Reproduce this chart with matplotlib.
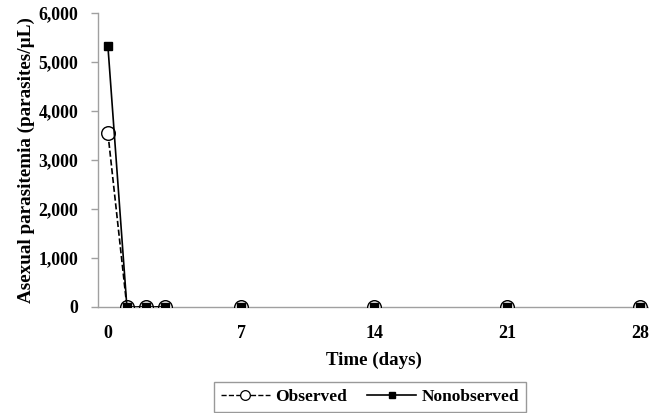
import matplotlib.pyplot as plt
import numpy as np

# Data
days = [0, 1, 2, 3, 7, 14, 21, 28]
observed = [3550, 0, 0, 0, 0, 0, 0, 0]
nonobserved = [5330, 0, 0, 0, 0, 0, 0, 0]
xticks = [0, 7, 14, 21, 28]
yticks = [0, 1000, 2000, 3000, 4000, 5000, 6000]

plt.rcParams['font.family'] = 'Liberation Serif'
plt.rcParams['font.weight'] = 'bold'

fig = plt.figure(figsize=(6.49, 4.13), dpi=100)
ax = fig.add_axes([0.151, 0.2567, 0.849, 0.7118])

d = np.array(days)
# Excel-style: lines only join consecutive days, gaps elsewhere
brk = np.where(np.diff(d) > 1)[0] + 1
segs = np.split(np.arange(len(d)), brk)


def draw(vals, ls, marker, ms, mfc, zo):
    v = np.array(vals, dtype=float)
    for s in segs:
        ax.plot(d[s], v[s], ls=ls, color='black', lw=1.2, zorder=zo)
    ax.plot(d, v, ls='none', marker=marker, ms=ms, mfc=mfc, mec='black',
            mew=1.0, zorder=zo + 0.5)


draw(observed, '--', 'o', 9.8, 'white', 3)
draw(nonobserved, '-', 's', 6, 'black', 4)

h1, = ax.plot([], [], ls='--', color='black', lw=1.0, marker='o', ms=7,
              mfc='white', mec='black', mew=0.9)
h2, = ax.plot([], [], ls='-', color='black', lw=1.2, marker='s', ms=5,
              mfc='black', mec='black')

ax.set_xlim(-0.52, 28.45)
ax.set_ylim(0, 6000)
ax.set_xticks(xticks)
ax.set_yticks(yticks)
ax.set_yticklabels([f'{v:,}' for v in yticks])
ax.tick_params(axis='x', length=0, pad=13, labelsize=13)
ax.tick_params(axis='y', length=5, width=1, color='#a0a0a0', pad=9, labelsize=12.8)

for side in ['top', 'right']:
    ax.spines[side].set_visible(False)
for side in ['left', 'bottom']:
    ax.spines[side].set_color('#a0a0a0')
    ax.spines[side].set_linewidth(1.0)

ax.set_ylabel('Asexual parasitemia (parasites/µL)', fontsize=13.8,
              fontweight='bold', labelpad=3)
ax.set_xlabel('Time (days)', fontsize=13.6, fontweight='bold', labelpad=7)

leg = fig.legend([h1, h2], ['Observed', 'Nonobserved'], loc='center',
                 bbox_to_anchor=(0.570, 0.039), ncol=2, frameon=True,
                 fancybox=False, edgecolor='#808080', fontsize=12.5,
                 handlelength=2.8, columnspacing=1.2, borderpad=0.4,
                 handletextpad=0.3)
leg.get_frame().set_linewidth(1.0)

fig.savefig('out.png', dpi=100)
